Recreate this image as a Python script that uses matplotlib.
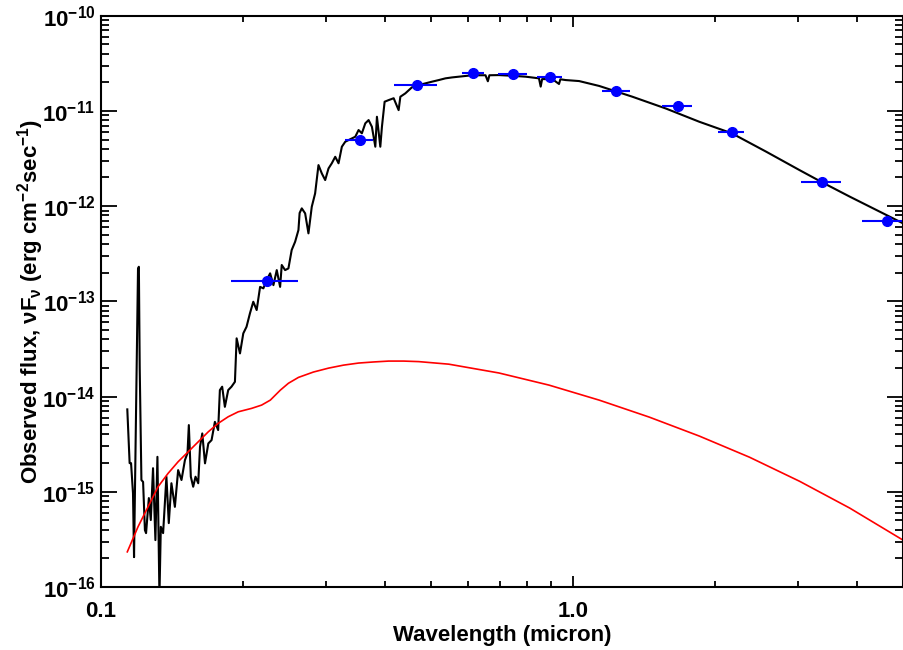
import numpy as np
import matplotlib
matplotlib.use("Agg")
import matplotlib.pyplot as plt
from matplotlib.ticker import NullFormatter

plt.rcParams['font.family'] = ['Liberation Sans', 'DejaVu Sans']
plt.rcParams['font.weight'] = 'bold'
plt.rcParams['mathtext.fontset'] = 'custom'
plt.rcParams['mathtext.rm'] = 'Liberation Sans:bold'
plt.rcParams['mathtext.bf'] = 'Liberation Sans:bold'
plt.rcParams['mathtext.it'] = 'Liberation Sans:bold'
plt.rcParams['mathtext.default'] = 'bf'

# observed spectrum (wavelength in micron, nuF_nu)
spec_wave = [0.1137, 0.1150, 0.1158, 0.1169, 0.1175, 0.1190, 0.1198, 0.1203, 0.1208, 0.1218,
             0.1228, 0.1239, 0.1246, 0.1263, 0.1275, 0.1289, 0.1304, 0.1317, 0.1330, 0.1339,
             0.1354, 0.1376, 0.1392, 0.1410, 0.1434, 0.1457, 0.1481, 0.1506, 0.1525, 0.1535,
             0.1550, 0.1568, 0.1586, 0.1607, 0.1621, 0.1639, 0.1661, 0.1688, 0.1715, 0.1743,
             0.1771, 0.1786, 0.1806, 0.1830, 0.1860, 0.1890, 0.1922, 0.1938, 0.1970, 0.2002,
             0.2034, 0.2068, 0.2102, 0.2137, 0.2173, 0.2208, 0.2244, 0.2282, 0.2319, 0.2357,
             0.2396, 0.2415, 0.2455, 0.2495, 0.2535, 0.2578, 0.2620, 0.2635, 0.2663, 0.2707,
             0.2751, 0.2796, 0.2842, 0.2889, 0.2936, 0.2985, 0.3034, 0.3083, 0.3135, 0.3186,
             0.3238, 0.3292, 0.3400, 0.3457, 0.3513, 0.3570, 0.3630, 0.3689, 0.3749, 0.3812,
             0.3842, 0.3906, 0.3937, 0.3989, 0.4068, 0.4169, 0.4271, 0.4307, 0.4413, 0.4557,
             0.4710, 0.4867, 0.5028, 0.5194, 0.5367, 0.5543, 0.5728, 0.5918, 0.6112, 0.6525,
             0.6600, 0.6650, 0.6966, 0.7435, 0.7937, 0.8469, 0.8540, 0.8600, 0.9038, 0.9338,
             0.9400, 0.9649, 1.030, 1.136, 1.336, 1.573, 1.851, 2.170, 2.566, 3.019,
             3.370, 3.855, 4.537, 5.000]
spec_flux = [7.34e-15, 2.00e-15, 2.00e-15, 9.69e-16, 2.06e-16, 2.0e-14, 2.2e-13, 2.31e-13, 2.0e-14, 1.33e-15,
             1.27e-15, 3.96e-16, 3.68e-16, 8.59e-16, 5.05e-16, 1.77e-15, 3.11e-16, 2.33e-15, 8.0e-17, 4.29e-16,
             3.68e-16, 1.44e-15, 4.69e-16, 1.23e-15, 6.95e-16, 1.69e-15, 1.33e-15, 2.15e-15, 2.55e-15, 5.02e-15,
             1.44e-15, 1.13e-15, 1.44e-15, 1.23e-15, 2.97e-15, 4.10e-15, 1.99e-15, 3.22e-15, 3.49e-15, 5.43e-15,
             4.45e-15, 1.17e-14, 1.27e-14, 7.81e-15, 1.17e-14, 1.27e-14, 1.43e-14, 4.09e-14, 2.84e-14, 4.61e-14,
             5.41e-14, 7.48e-14, 9.91e-14, 8.11e-14, 1.42e-13, 1.37e-13, 1.67e-13, 1.97e-13, 1.48e-13, 2.13e-13,
             1.42e-13, 2.41e-13, 2.13e-13, 2.22e-13, 3.46e-13, 4.23e-13, 5.61e-13, 8.47e-13, 9.48e-13, 8.40e-13,
             5.18e-13, 9.86e-13, 1.36e-12, 2.70e-12, 2.21e-12, 1.88e-12, 2.49e-12, 2.82e-12, 3.30e-12, 2.82e-12,
             4.21e-12, 4.75e-12, 5.15e-12, 5.36e-12, 6.30e-12, 5.82e-12, 7.41e-12, 8.02e-12, 6.82e-12, 4.21e-12,
             8.69e-12, 4.21e-12, 6.82e-12, 1.25e-11, 1.30e-11, 1.36e-11, 1.02e-11, 1.41e-11, 1.53e-11, 1.77e-11,
             1.87e-11, 1.95e-11, 2.03e-11, 2.11e-11, 2.20e-11, 2.25e-11, 2.29e-11, 2.33e-11, 2.37e-11, 2.37e-11,
             2.05e-11, 2.37e-11, 2.38e-11, 2.34e-11, 2.29e-11, 2.20e-11, 1.80e-11, 2.16e-11, 2.16e-11, 1.92e-11,
             2.15e-11, 2.11e-11, 2.06e-11, 1.83e-11, 1.41e-11, 1.06e-11, 7.70e-12, 5.82e-12, 3.73e-12, 2.39e-12,
             1.78e-12, 1.26e-12, 8.40e-13, 6.60e-13]

# model curve
model_wave = [0.1137, 0.1198, 0.1258, 0.1321, 0.1387, 0.1457, 0.1530, 0.1607, 0.1688, 0.1771,
              0.1860, 0.1953, 0.2085, 0.2189, 0.2284, 0.2399, 0.2495, 0.2620, 0.2818, 0.3034,
              0.3265, 0.3513, 0.3780, 0.4068, 0.4377, 0.4710, 0.5455, 0.6966, 0.8893, 1.136,
              1.450, 1.851, 2.364, 3.019, 3.855, 5.000]
model_flux = [2.34e-16, 4.29e-16, 6.95e-16, 1.13e-15, 1.56e-15, 2.07e-15, 2.63e-15, 3.35e-15, 4.27e-15, 5.23e-15,
              6.14e-15, 6.92e-15, 7.52e-15, 8.14e-15, 9.18e-15, 1.17e-14, 1.38e-14, 1.59e-14, 1.81e-14, 1.99e-14,
              2.14e-14, 2.25e-14, 2.31e-14, 2.36e-14, 2.36e-14, 2.33e-14, 2.19e-14, 1.77e-14, 1.32e-14, 9.18e-15,
              6.09e-15, 3.85e-15, 2.31e-15, 1.29e-15, 6.75e-16, 3.11e-16]

# photometry
phot_wave = [0.225, 0.353, 0.467, 0.614, 0.747, 0.892, 1.236, 1.665, 2.17, 3.37, 4.63]
phot_flux = [1.63e-13, 4.94e-12, 1.86e-11, 2.52e-11, 2.44e-11, 2.25e-11, 1.63e-11, 1.125e-11, 5.96e-12, 1.80e-12, 6.97e-13]
band_lo = [0.1886, 0.329, 0.417, 0.582, 0.694, 0.839, 1.154, 1.54, 2.03, 3.04, 4.10]
band_hi = [0.261, 0.376, 0.515, 0.647, 0.80, 0.949, 1.319, 1.79, 2.30, 3.70, 5.2]

x_major = [0.1, 1.0]
x_major_labels = ['0.1', '1.0']
x_minor = [0.2, 0.3, 0.4, 0.5, 0.6, 0.7, 0.8, 0.9, 2, 3, 4]
decades = [-16, -15, -14, -13, -12, -11, -10]

fig = plt.figure(figsize=(9.04, 6.5), dpi=100)
ax = fig.add_axes([0.1117, 0.0969, 0.8872, 0.8789])
ax.set_xscale('log')
ax.set_yscale('log')

ax.plot(spec_wave, spec_flux, color='black', lw=1.5)
ax.plot(model_wave, model_flux, color='red', lw=1.2)
pw = np.array(phot_wave)
xerr = [pw - np.array(band_lo), np.array(band_hi) - pw]
ax.errorbar(phot_wave, phot_flux, xerr=xerr, fmt='o', color='blue', ms=7, elinewidth=1.5, capsize=0)

ax.set_xlim(0.1, 5.0)
ax.set_ylim(1e-16, 1e-10)

ax.set_xticks(x_major, labels=x_major_labels)
ax.set_xticks(x_minor, minor=True)
ax.xaxis.set_minor_formatter(NullFormatter())
ydec = [10.0 ** d for d in decades]
ax.set_yticks(ydec, labels=[r'$10^{%d}$' % d for d in decades])
ax.set_yticks([m * v for v in ydec[:-1] for m in range(2, 10)], minor=True)
ax.yaxis.set_minor_formatter(NullFormatter())

ax.tick_params(axis='both', which='both', direction='in', top=True, right=True,
               bottom=True, left=True, width=1.3, color='black')
ax.tick_params(axis='x', which='major', length=8, labelsize=16, pad=10)
ax.tick_params(axis='x', which='minor', length=4)
ax.tick_params(axis='y', which='major', length=11.5, labelsize=16, pad=4)
ax.tick_params(axis='y', which='minor', length=5.8)
for s in ax.spines.values():
    s.set_linewidth(1.5)

ax.set_xlabel('Wavelength (micron)', fontsize=16, fontweight='bold', labelpad=2)
ax.set_ylabel(r'Observed flux, $\nu$F$_{\nu}$ (erg cm$^{-2}$sec$^{-1}$)', fontsize=16, fontweight='bold')
ax.yaxis.set_label_coords(-0.068, 0.5)

# build the tick objects, then make sure every tick mark is drawn
fig.canvas.draw()
tick_len = {('x', True): 8, ('x', False): 4, ('y', True): 11.5, ('y', False): 5.8}
for name, axis in (('x', ax.xaxis), ('y', ax.yaxis)):
    for major, ticks in ((True, axis.get_major_ticks()), (False, axis.get_minor_ticks())):
        for t in ticks:
            for line in (t.tick1line, t.tick2line):
                line.set_visible(True)
                line.set_markersize(tick_len[(name, major)])
                line.set_markeredgewidth(1.3)
                line.set_markeredgecolor('black')
                line.set_zorder(5)

fig.savefig('out.png', dpi=100)
